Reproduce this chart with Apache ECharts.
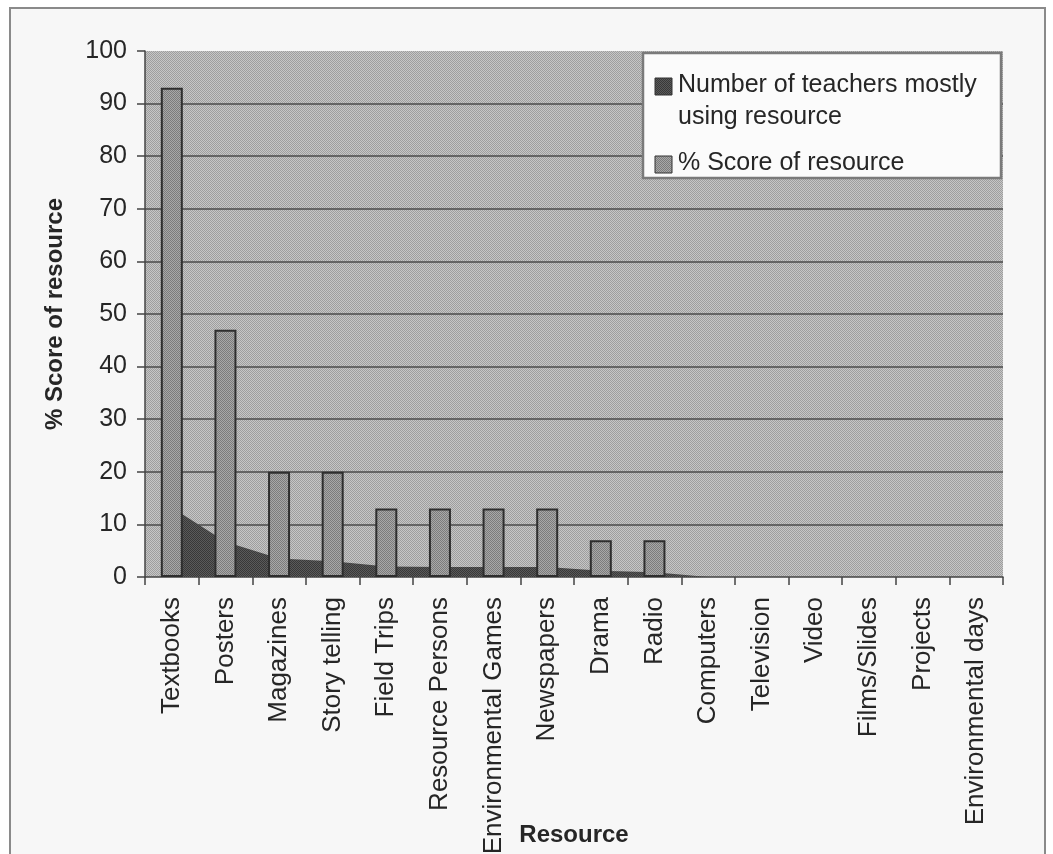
<!DOCTYPE html>
<html>
<head>
<meta charset="utf-8">
<script src="https://cdn.jsdelivr.net/npm/echarts@6/dist/echarts.min.js"></script>
<style>
  html, body { margin: 0; padding: 0; background: #ffffff; }
  #chart { width: 1053px; height: 854px; }
</style>
</head>
<body>
<div id="chart"></div>
<script>
// Resources used by teachers
const categories = [
  'Textbooks', 'Posters', 'Magazines', 'Story telling', 'Field Trips',
  'Resource Persons', 'Environmental Games', 'Newspapers', 'Drama', 'Radio',
  'Computers', 'Television', 'Video', 'Films/Slides', 'Projects', 'Environmental days'
];
const teachersMostlyUsing = [13.2, 6.7, 3.5, 3.0, 2.0, 1.9, 1.9, 1.9, 1.2, 0.9, 0, 0, 0, 0, 0, 0];
const scorePercent = [93, 47, 20, 20, 13, 13, 13, 13, 7, 7, 0, 0, 0, 0, 0, 0];
const yTicks = [0, 10, 20, 30, 40, 50, 60, 70, 80, 90, 100];

const seriesNames = ['Number of teachers mostly using resource', '% Score of resource'];
const xAxisTitle = 'Resource';
const yAxisTitle = '% Score of resource';
const FONT = '"Liberation Sans", Arial, sans-serif';
const TEXT = '#262626';

// small checkered tiles giving the stippled greys
function stipple(c1, c2) {
  const cv = document.createElement('canvas');
  cv.width = 2; cv.height = 2;
  const ctx = cv.getContext('2d');
  ctx.fillStyle = c1; ctx.fillRect(0, 0, 2, 2);
  ctx.fillStyle = c2; ctx.fillRect(0, 0, 1, 1); ctx.fillRect(1, 1, 1, 1);
  return { image: cv, repeat: 'repeat' };
}
const plotFill = stipple('#c6c6c6', '#9e9e9e');
const barFill = stipple('#a8a8a8', '#7c7c7c');
const areaFill = stipple('#5a5a5a', '#383838');

const chart = echarts.init(document.getElementById('chart'), null, { renderer: 'canvas' });

// zero scores have no column at all
const barData = scorePercent.map(v => (v === 0 ? null : v));

const LEGEND_Z = 100;

chart.setOption({
  backgroundColor: '#ffffff',
  animation: false,
  grid: {
    left: 145, right: 50, top: 51, bottom: 277,
    outerBoundsMode: 'none',
    containLabel: false,
    show: true, backgroundColor: plotFill, borderWidth: 0
  },
  xAxis: {
    type: 'category',
    data: categories,
    axisLine: { show: true, lineStyle: { color: '#444', width: 1.5 } },
    axisTick: { show: true, length: 8, lineStyle: { color: '#444', width: 1.5 } },
    axisLabel: {
      interval: 0, rotate: 90, margin: 20,
      fontFamily: FONT, fontSize: 26, color: TEXT
    },
    splitLine: { show: false }
  },
  yAxis: {
    type: 'value',
    min: yTicks[0], max: yTicks[yTicks.length - 1], interval: yTicks[1] - yTicks[0],
    name: yAxisTitle,
    nameLocation: 'middle',
    nameGap: 78,
    nameTextStyle: { fontFamily: FONT, fontSize: 24, fontWeight: 'bold', color: TEXT },
    axisLine: { show: true, lineStyle: { color: '#444', width: 1.5 } },
    axisTick: { show: true, length: 8, lineStyle: { color: '#444', width: 1.5 } },
    axisLabel: { margin: 18, fontFamily: FONT, fontSize: 25, color: TEXT },
    splitLine: {
      show: true, showMinLine: false, showMaxLine: false,
      lineStyle: { color: '#4a4a4a', width: 1.5 }
    }
  },
  series: [
    {
      name: seriesNames[0],
      type: 'line',
      data: teachersMostlyUsing,
      symbol: 'none',
      lineStyle: { width: 0 },
      areaStyle: { color: areaFill, opacity: 1 },
      z: 1
    },
    {
      name: seriesNames[1],
      type: 'bar',
      data: barData,
      barWidth: 22,
      itemStyle: { color: barFill, borderColor: '#2e2e2e', borderWidth: 2 },
      z: 2
    }
  ],
  graphic: [
    // outer frame
    {
      type: 'rect', silent: true, z: -10,
      shape: { x: 10, y: 8, width: 1035, height: 870 },
      style: { fill: '#f7f7f7', stroke: '#8a8a8a', lineWidth: 2 }
    },
    // category axis title, centred under the plot
    {
      type: 'text', z: LEGEND_Z,
      style: {
        x: 574, y: 835, text: xAxisTitle,
        font: 'bold 24px ' + FONT, fill: TEXT, align: 'center', verticalAlign: 'middle'
      }
    },
    // legend box
    {
      type: 'rect', z: LEGEND_Z,
      shape: { x: 643, y: 53, width: 358, height: 125 },
      style: { fill: '#fbfbfb', stroke: '#7a7a7a', lineWidth: 2.5 }
    },
    {
      type: 'rect', z: LEGEND_Z,
      shape: { x: 655, y: 78, width: 17, height: 17 },
      style: { fill: areaFill, stroke: '#333', lineWidth: 1 }
    },
    {
      type: 'text', z: LEGEND_Z,
      style: {
        x: 678, y: 85, text: 'Number of teachers mostly',
        font: '25px ' + FONT, fill: TEXT, verticalAlign: 'middle'
      }
    },
    {
      type: 'text', z: LEGEND_Z,
      style: {
        x: 678, y: 117, text: 'using resource',
        font: '25px ' + FONT, fill: TEXT, verticalAlign: 'middle'
      }
    },
    {
      type: 'rect', z: LEGEND_Z,
      shape: { x: 655, y: 156, width: 17, height: 17 },
      style: { fill: barFill, stroke: '#333', lineWidth: 1 }
    },
    {
      type: 'text', z: LEGEND_Z,
      style: {
        x: 678, y: 163, text: '% Score of resource',
        font: '25px ' + FONT, fill: TEXT, verticalAlign: 'middle'
      }
    }
  ]
});
</script>
</body>
</html>
